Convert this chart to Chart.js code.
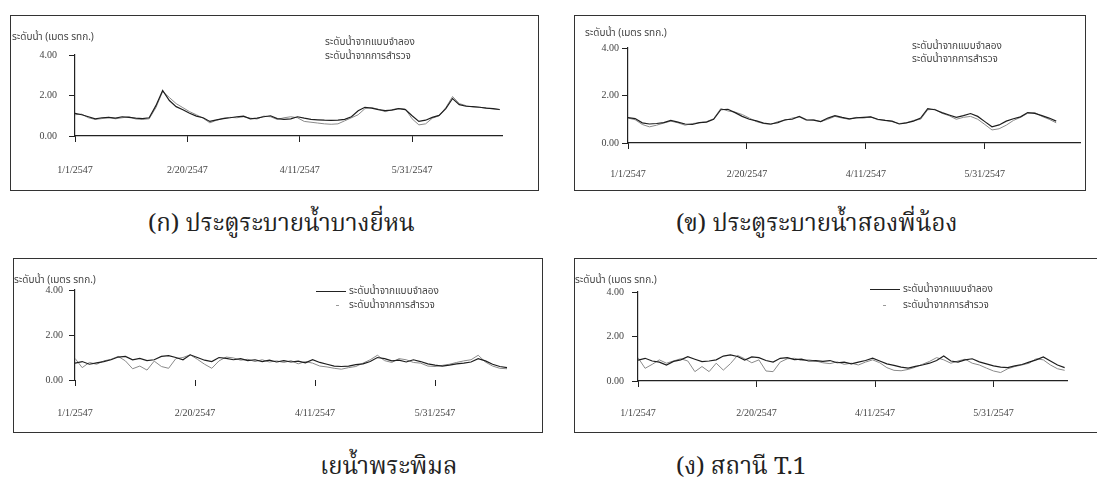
<!DOCTYPE html>
<html>
<head>
<meta charset="utf-8">
<script src="https://cdn.jsdelivr.net/npm/chart.js@4.4.0/dist/chart.umd.min.js"></script>
<style>
  body { margin: 0; background: #fff; }
  #page { position: relative; width: 1097px; height: 488px; overflow: hidden; background: #fff; }
  .frame { position: absolute; border: 1.5px solid #333; box-sizing: border-box; }
  canvas { position: absolute; }
  .ytitle, .leg { position: absolute; font-family: "Noto Sans Thai", "Loma", "Garuda", "Norasi", "DejaVu Sans", sans-serif; font-size: 10px; color: #444; white-space: nowrap; line-height: 12px; }
  .caption { position: absolute; font-family: "Noto Serif Thai", "Norasi", "Kinnari", "Liberation Serif", serif; font-size: 24px; color: #222; white-space: nowrap; }
  .sample { position: absolute; height: 0; border-top: 1px solid #222; }
</style>
</head>
<body>
<div id="page">
  <div class="frame" style="left:10px;top:15px;width:529px;height:176px"></div>
  <div class="frame" style="left:574px;top:15px;width:512px;height:176px"></div>
  <div class="frame" style="left:13px;top:258px;width:530px;height:175px"></div>
  <div class="frame" style="left:574px;top:258px;width:530px;height:175px"></div>

  <canvas id="c1" width="490" height="143" style="left:20px;top:37px"></canvas>
  <canvas id="c2" width="504" height="151" style="left:580px;top:34px"></canvas>
  <canvas id="c3" width="520" height="149" style="left:20px;top:276px"></canvas>
  <canvas id="c4" width="490" height="147" style="left:585px;top:278px"></canvas>

  <div class="ytitle" style="left:12px;top:31px">ระดับน้ำ (เมตร รทก.)</div>
  <div class="ytitle" style="left:585px;top:27px">ระดับน้ำ (เมตร รทก.)</div>
  <div class="ytitle" style="left:14px;top:274px">ระดับน้ำ (เมตร รทก.)</div>
  <div class="ytitle" style="left:575px;top:274px">ระดับน้ำ (เมตร รทก.)</div>

  <div class="leg" style="left:325px;top:36px">ระดับน้ำจากแบบจำลอง</div>
  <div class="leg" style="left:325px;top:50px">ระดับน้ำจากการสำรวจ</div>
  <div class="leg" style="left:912px;top:40px">ระดับน้ำจากแบบจำลอง</div>
  <div class="leg" style="left:912px;top:53px">ระดับน้ำจากการสำรวจ</div>

  <div class="sample" style="left:316px;top:291px;width:30px"></div>
  <div class="sample" style="left:336px;top:305px;width:3px;border-color:#999"></div>
  <div class="leg" style="left:349px;top:285px">ระดับน้ำจากแบบจำลอง</div>
  <div class="leg" style="left:349px;top:299px">ระดับน้ำจากการสำรวจ</div>

  <div class="sample" style="left:870px;top:289px;width:30px"></div>
  <div class="sample" style="left:883px;top:305px;width:3px;border-color:#999"></div>
  <div class="leg" style="left:903px;top:283px">ระดับน้ำจากแบบจำลอง</div>
  <div class="leg" style="left:903px;top:299px">ระดับน้ำจากการสำรวจ</div>

  <div class="caption" style="left:148px;top:205px">(ก) ประตูระบายน้ำบางยี่หน</div>
  <div class="caption" style="left:676px;top:205px">(ข) ประตูระบายน้ำสองพี่น้อง</div>
  <div class="caption" style="left:320px;top:448px">เยน้ำพระพิมล</div>
  <div class="caption" style="left:676px;top:448px">(ง) สถานี T.1</div>
</div>

<script>
// tick labels on the date axis (one every 50 days from 1/1/2547)
const tickDays = [0, 50, 100, 150];
const tickDates = ['1/1/2547', '2/20/2547', '4/11/2547', '5/31/2547'];
const stepDays = 3; // values every 3 days

// (ก) ประตูระบายน้ำบางยี่หน
const modelBangYiHon = [1.12, 1.05, 0.95, 0.85, 0.9, 0.92, 0.88, 0.95, 0.92, 0.88, 0.86, 0.9, 1.5, 2.25, 1.75,
  1.45, 1.3, 1.12, 0.98, 0.9, 0.72, 0.8, 0.86, 0.9, 0.95, 0.98, 0.85, 0.88, 0.95, 1.0, 0.86, 0.82, 0.85, 0.95,
  0.88, 0.82, 0.8, 0.78, 0.77, 0.78, 0.82, 0.95, 1.25, 1.42, 1.38, 1.3, 1.25, 1.28, 1.35, 1.3, 1.0, 0.72, 0.78,
  0.92, 1.02, 1.35, 1.85, 1.55, 1.47, 1.45, 1.42, 1.38, 1.35, 1.31];
const surveyBangYiHon = [1.05, 1.08, 0.9, 0.82, 0.86, 0.92, 0.85, 0.9, 0.95, 0.84, 0.82, 0.85, 1.4, 2.2, 1.9,
  1.6, 1.4, 1.2, 1.05, 0.88, 0.65, 0.78, 0.88, 0.92, 0.9, 0.95, 0.88, 0.84, 0.98, 0.95, 0.82, 0.9, 0.95, 0.9,
  0.72, 0.68, 0.64, 0.6, 0.58, 0.6, 0.75, 0.9, 1.05, 1.35, 1.4, 1.32, 1.2, 1.3, 1.36, 1.33, 0.85, 0.55, 0.6,
  0.88, 1.0, 1.4, 1.95, 1.6, 1.5, 1.44, 1.42, 1.38, 1.34, 1.3];

// (ข) ประตูระบายน้ำสองพี่น้อง
const modelSongPhiNong = [1.07, 1.03, 0.85, 0.8, 0.82, 0.86, 0.95, 0.88, 0.8, 0.78, 0.86, 0.88, 1.0, 1.4, 1.42,
  1.28, 1.12, 1.0, 0.93, 0.84, 0.8, 0.86, 0.98, 1.0, 1.12, 0.98, 0.96, 0.9, 1.05, 1.15, 1.08, 1.02, 1.06, 1.08,
  1.1, 1.0, 0.95, 0.92, 0.8, 0.85, 0.92, 1.05, 1.45, 1.4, 1.28, 1.18, 1.08, 1.15, 1.24, 1.12, 0.9, 0.68, 0.76,
  0.92, 1.02, 1.1, 1.28, 1.25, 1.15, 1.05, 0.92];
const surveySongPhiNong = [1.05, 0.98, 0.78, 0.68, 0.75, 0.84, 0.92, 0.85, 0.75, 0.82, 0.85, 0.9, 1.02, 1.45, 1.35,
  1.3, 1.2, 1.05, 0.9, 0.82, 0.78, 0.9, 0.95, 1.05, 1.1, 0.95, 0.98, 0.9, 1.0, 1.12, 1.05, 1.0, 1.08, 1.05,
  1.1, 0.98, 0.96, 0.9, 0.82, 0.85, 0.95, 1.0, 1.4, 1.42, 1.25, 1.15, 1.0, 1.08, 1.12, 1.0, 0.78, 0.55, 0.6,
  0.75, 0.95, 1.08, 1.25, 1.28, 1.12, 1.0, 0.85];

// (ค) พระพิมล
const modelPhraPhimon = [0.75, 0.82, 0.7, 0.76, 0.82, 0.9, 1.02, 1.05, 0.9, 0.96, 0.86, 0.9, 1.05, 1.08, 1.0,
  0.9, 1.12, 1.0, 0.88, 0.82, 1.0, 0.96, 0.9, 0.95, 0.86, 0.9, 0.82, 0.88, 0.8, 0.86, 0.8, 0.84, 0.76, 0.9,
  0.78, 0.7, 0.62, 0.6, 0.62, 0.68, 0.72, 0.82, 1.0, 0.95, 0.85, 0.88, 0.8, 0.9, 0.82, 0.72, 0.66, 0.62, 0.66,
  0.72, 0.75, 0.8, 0.95, 0.85, 0.7, 0.6, 0.55];
const surveyPhraPhimon = [0.96, 0.55, 0.78, 0.7, 0.85, 0.92, 1.05, 0.85, 0.5, 0.62, 0.44, 0.84, 0.6, 0.52, 0.95,
  1.0, 1.12, 0.92, 0.7, 0.52, 0.85, 1.02, 0.98, 0.88, 0.92, 0.82, 0.9, 0.8, 0.85, 0.78, 0.86, 0.72, 0.82, 0.75,
  0.62, 0.58, 0.52, 0.48, 0.55, 0.6, 0.75, 0.9, 1.1, 0.86, 0.78, 0.95, 0.9, 0.78, 0.75, 0.62, 0.6, 0.65, 0.7,
  0.78, 0.85, 0.9, 1.1, 0.8, 0.62, 0.52, 0.5];

// (ง) สถานี T.1
const modelT1 = [0.94, 1.02, 0.9, 0.85, 0.72, 0.88, 0.95, 1.09, 0.98, 0.87, 0.9, 0.95, 1.12, 1.17, 1.1,
  0.94, 1.08, 1.05, 0.92, 0.85, 1.02, 1.05, 0.96, 0.98, 0.9, 0.92, 0.88, 0.92, 0.82, 0.85, 0.77, 0.85, 0.92,
  1.03, 0.9, 0.77, 0.7, 0.62, 0.58, 0.66, 0.72, 0.8, 0.92, 1.12, 0.9, 0.85, 0.95, 1.0, 0.86, 0.77, 0.68, 0.62,
  0.6, 0.68, 0.74, 0.85, 0.95, 1.08, 0.9, 0.72, 0.6];
const surveyT1 = [1.05, 0.57, 0.75, 0.95, 0.8, 0.9, 1.0, 0.9, 0.42, 0.65, 0.42, 0.8, 0.49, 0.78, 1.15,
  1.0, 0.82, 0.95, 0.45, 0.42, 0.85, 1.0, 1.02, 0.92, 0.95, 0.9, 0.82, 0.78, 0.86, 0.75, 0.8, 0.72, 0.85,
  0.95, 0.82, 0.6, 0.48, 0.46, 0.52, 0.62, 0.75, 0.88, 1.05, 0.95, 0.8, 0.9, 0.98, 0.8, 0.72, 0.58, 0.45,
  0.38, 0.55, 0.65, 0.72, 0.8, 1.0, 0.95, 0.72, 0.55, 0.48];

function toPoints(values) {
    return values.map((v, i) => ({ x: i * stepDays, y: v }));
}

function makePanel(id, model, survey, o) {
    const tickFont = { family: '"Liberation Serif", serif', size: 10 };
    new Chart(document.getElementById(id), {
        type: 'line',
        data: {
            datasets: [
                { label: 'ระดับน้ำจากแบบจำลอง', data: toPoints(model), borderColor: '#1e1e1e', borderWidth: 1.2, pointRadius: 0, tension: 0 },
                { label: 'ระดับน้ำจากการสำรวจ', data: toPoints(survey), borderColor: '#8a8a8a', borderWidth: 1, pointRadius: 0, tension: 0 }
            ]
        },
        options: {
            responsive: false,
            animation: false,
            layout: { padding: { top: o.padTop, right: o.padRight, left: 0, bottom: 0 } },
            plugins: { legend: { display: false }, tooltip: { enabled: false } },
            scales: {
                x: {
                    type: 'linear',
                    min: 0,
                    max: o.xMax,
                    afterBuildTicks: s => { s.ticks = tickDays.map(v => ({ value: v })); },
                    afterFit: s => { s.height = o.xHeight; },
                    border: { display: o.xLine, color: '#222', width: 1.2 },
                    grid: { drawOnChartArea: false, drawTicks: true, tickLength: 6, color: '#222' },
                    ticks: {
                        padding: o.xPad,
                        color: '#444',
                        font: tickFont,
                        maxRotation: 0,
                        callback: v => tickDates[tickDays.indexOf(v)] || ''
                    }
                },
                y: {
                    min: 0,
                    max: 4,
                    afterFit: s => { s.width = o.yWidth; },
                    border: { display: true, color: '#222', width: 1.2 },
                    grid: { drawOnChartArea: false, drawTicks: true, tickLength: 6, color: '#222' },
                    ticks: { stepSize: 2, padding: o.yPad, color: '#444', font: tickFont, callback: v => v.toFixed(2) }
                }
            }
        }
    });
}

makePanel('c1', modelBangYiHon, surveyBangYiHon, { xMax: 190, padTop: 14, padRight: 8, yWidth: 55, xHeight: 44, xPad: 22, yPad: 12, xLine: true });
makePanel('c2', modelSongPhiNong, surveySongPhiNong, { xMax: 190, padTop: 14, padRight: 4, yWidth: 48, xHeight: 42, xPad: 19, yPad: 3, xLine: true });
makePanel('c3', modelPhraPhimon, surveyPhraPhimon, { xMax: 190, padTop: 14, padRight: 9, yWidth: 55, xHeight: 45, xPad: 21, yPad: 6, xLine: false });
makePanel('c4', modelT1, surveyT1, { xMax: 181, padTop: 14, padRight: 8, yWidth: 53, xHeight: 44, xPad: 20, yPad: 8, xLine: true });
</script>
</body>
</html>
